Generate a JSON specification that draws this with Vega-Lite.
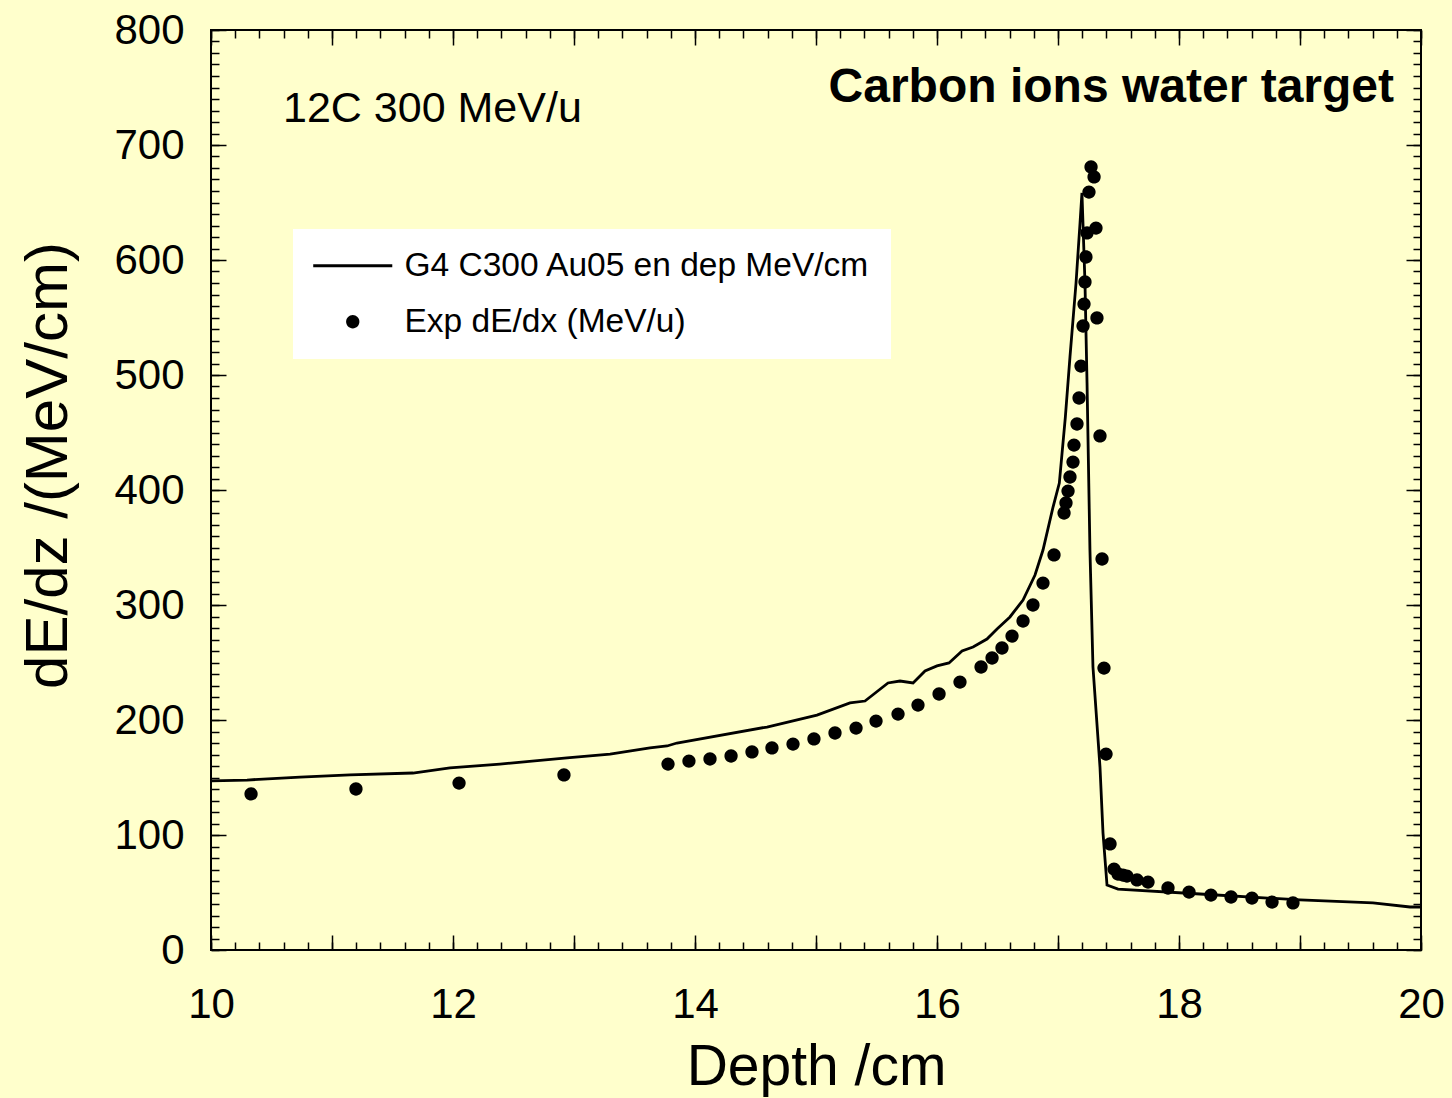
{
  "$schema": "https://vega.github.io/schema/vega-lite/v6.json",
  "width": 1210,
  "height": 920,
  "autosize": {"type": "none"},
  "padding": {"left": 211, "top": 30, "right": 31, "bottom": 148},
  "background": "#FFFFCC",
  "config": {
    "font": "Liberation Sans",
    "view": {"stroke": "black", "strokeWidth": 2},
    "axis": {
      "grid": false,
      "domain": false,
      "tickColor": "black",
      "tickWidth": 1.5,
      "labelFont": "Liberation Sans",
      "titleFont": "Liberation Sans",
      "labelColor": "black",
      "titleColor": "black",
      "titleFontWeight": "normal",
      "labelFontSize": 42,
      "labelFlush": false,
      "labelOverlap": false
    }
  },
  "datasets": {
    "sim": [
      {"depth": 10.0, "dEdz": 147.0},
      {"depth": 10.298, "dEdz": 147.8},
      {"depth": 10.736, "dEdz": 150.4},
      {"depth": 11.149, "dEdz": 152.2},
      {"depth": 11.669, "dEdz": 153.9},
      {"depth": 11.975, "dEdz": 158.3},
      {"depth": 12.388, "dEdz": 161.7},
      {"depth": 12.942, "dEdz": 167.0},
      {"depth": 13.298, "dEdz": 170.4},
      {"depth": 13.628, "dEdz": 175.7},
      {"depth": 13.769, "dEdz": 177.4},
      {"depth": 13.851, "dEdz": 180.0},
      {"depth": 14.595, "dEdz": 193.9},
      {"depth": 15.008, "dEdz": 204.3},
      {"depth": 15.281, "dEdz": 214.8},
      {"depth": 15.405, "dEdz": 216.5},
      {"depth": 15.595, "dEdz": 232.2},
      {"depth": 15.694, "dEdz": 233.9},
      {"depth": 15.802, "dEdz": 232.2},
      {"depth": 15.901, "dEdz": 242.6},
      {"depth": 16.0, "dEdz": 247.0},
      {"depth": 16.099, "dEdz": 249.6},
      {"depth": 16.207, "dEdz": 260.0},
      {"depth": 16.298, "dEdz": 263.5},
      {"depth": 16.413, "dEdz": 270.4},
      {"depth": 16.496, "dEdz": 279.1},
      {"depth": 16.603, "dEdz": 289.6},
      {"depth": 16.711, "dEdz": 304.3},
      {"depth": 16.81, "dEdz": 326.1},
      {"depth": 16.876, "dEdz": 347.8},
      {"depth": 16.959, "dEdz": 385.2},
      {"depth": 17.011, "dEdz": 406.0},
      {"depth": 17.06, "dEdz": 462.6},
      {"depth": 17.099, "dEdz": 515.7},
      {"depth": 17.149, "dEdz": 580.0},
      {"depth": 17.182, "dEdz": 632.2},
      {"depth": 17.198, "dEdz": 658.3},
      {"depth": 17.223, "dEdz": 580.0},
      {"depth": 17.24, "dEdz": 493.0},
      {"depth": 17.264, "dEdz": 347.8},
      {"depth": 17.289, "dEdz": 246.1},
      {"depth": 17.347, "dEdz": 159.1},
      {"depth": 17.372, "dEdz": 101.7},
      {"depth": 17.405, "dEdz": 56.5},
      {"depth": 17.496, "dEdz": 53.0},
      {"depth": 18.174, "dEdz": 48.7},
      {"depth": 19.0, "dEdz": 43.5},
      {"depth": 19.603, "dEdz": 40.9},
      {"depth": 19.909, "dEdz": 37.4},
      {"depth": 20.0, "dEdz": 37.4}
    ],
    "exp": [
      {"depth": 10.331, "dEdx": 135.7, "series": "Exp dE/dx (MeV/u)"},
      {"depth": 11.198, "dEdx": 140.0, "series": "Exp dE/dx (MeV/u)"},
      {"depth": 12.05, "dEdx": 145.2, "series": "Exp dE/dx (MeV/u)"},
      {"depth": 12.917, "dEdx": 152.2, "series": "Exp dE/dx (MeV/u)"},
      {"depth": 13.777, "dEdx": 161.7, "series": "Exp dE/dx (MeV/u)"},
      {"depth": 13.95, "dEdx": 164.3, "series": "Exp dE/dx (MeV/u)"},
      {"depth": 14.124, "dEdx": 166.1, "series": "Exp dE/dx (MeV/u)"},
      {"depth": 14.298, "dEdx": 168.7, "series": "Exp dE/dx (MeV/u)"},
      {"depth": 14.471, "dEdx": 172.2, "series": "Exp dE/dx (MeV/u)"},
      {"depth": 14.636, "dEdx": 175.7, "series": "Exp dE/dx (MeV/u)"},
      {"depth": 14.81, "dEdx": 179.1, "series": "Exp dE/dx (MeV/u)"},
      {"depth": 14.983, "dEdx": 183.5, "series": "Exp dE/dx (MeV/u)"},
      {"depth": 15.157, "dEdx": 188.7, "series": "Exp dE/dx (MeV/u)"},
      {"depth": 15.331, "dEdx": 193.0, "series": "Exp dE/dx (MeV/u)"},
      {"depth": 15.496, "dEdx": 199.1, "series": "Exp dE/dx (MeV/u)"},
      {"depth": 15.678, "dEdx": 205.2, "series": "Exp dE/dx (MeV/u)"},
      {"depth": 15.843, "dEdx": 213.0, "series": "Exp dE/dx (MeV/u)"},
      {"depth": 16.017, "dEdx": 222.6, "series": "Exp dE/dx (MeV/u)"},
      {"depth": 16.19, "dEdx": 233.0, "series": "Exp dE/dx (MeV/u)"},
      {"depth": 16.364, "dEdx": 246.1, "series": "Exp dE/dx (MeV/u)"},
      {"depth": 16.455, "dEdx": 253.9, "series": "Exp dE/dx (MeV/u)"},
      {"depth": 16.537, "dEdx": 262.6, "series": "Exp dE/dx (MeV/u)"},
      {"depth": 16.62, "dEdx": 273.0, "series": "Exp dE/dx (MeV/u)"},
      {"depth": 16.711, "dEdx": 286.1, "series": "Exp dE/dx (MeV/u)"},
      {"depth": 16.793, "dEdx": 300.0, "series": "Exp dE/dx (MeV/u)"},
      {"depth": 16.876, "dEdx": 319.1, "series": "Exp dE/dx (MeV/u)"},
      {"depth": 16.967, "dEdx": 343.5, "series": "Exp dE/dx (MeV/u)"},
      {"depth": 17.05, "dEdx": 380.0, "series": "Exp dE/dx (MeV/u)"},
      {"depth": 17.066, "dEdx": 388.7, "series": "Exp dE/dx (MeV/u)"},
      {"depth": 17.083, "dEdx": 399.1, "series": "Exp dE/dx (MeV/u)"},
      {"depth": 17.099, "dEdx": 411.3, "series": "Exp dE/dx (MeV/u)"},
      {"depth": 17.124, "dEdx": 424.3, "series": "Exp dE/dx (MeV/u)"},
      {"depth": 17.132, "dEdx": 439.1, "series": "Exp dE/dx (MeV/u)"},
      {"depth": 17.157, "dEdx": 457.4, "series": "Exp dE/dx (MeV/u)"},
      {"depth": 17.174, "dEdx": 480.0, "series": "Exp dE/dx (MeV/u)"},
      {"depth": 17.19, "dEdx": 507.8, "series": "Exp dE/dx (MeV/u)"},
      {"depth": 17.207, "dEdx": 542.6, "series": "Exp dE/dx (MeV/u)"},
      {"depth": 17.215, "dEdx": 561.7, "series": "Exp dE/dx (MeV/u)"},
      {"depth": 17.223, "dEdx": 580.9, "series": "Exp dE/dx (MeV/u)"},
      {"depth": 17.231, "dEdx": 602.6, "series": "Exp dE/dx (MeV/u)"},
      {"depth": 17.24, "dEdx": 623.5, "series": "Exp dE/dx (MeV/u)"},
      {"depth": 17.256, "dEdx": 659.1, "series": "Exp dE/dx (MeV/u)"},
      {"depth": 17.273, "dEdx": 680.9, "series": "Exp dE/dx (MeV/u)"},
      {"depth": 17.298, "dEdx": 672.2, "series": "Exp dE/dx (MeV/u)"},
      {"depth": 17.314, "dEdx": 627.8, "series": "Exp dE/dx (MeV/u)"},
      {"depth": 17.322, "dEdx": 549.6, "series": "Exp dE/dx (MeV/u)"},
      {"depth": 17.347, "dEdx": 447.0, "series": "Exp dE/dx (MeV/u)"},
      {"depth": 17.364, "dEdx": 340.0, "series": "Exp dE/dx (MeV/u)"},
      {"depth": 17.38, "dEdx": 245.2, "series": "Exp dE/dx (MeV/u)"},
      {"depth": 17.397, "dEdx": 170.4, "series": "Exp dE/dx (MeV/u)"},
      {"depth": 17.43, "dEdx": 92.2, "series": "Exp dE/dx (MeV/u)"},
      {"depth": 17.463, "dEdx": 70.4, "series": "Exp dE/dx (MeV/u)"},
      {"depth": 17.496, "dEdx": 66.1, "series": "Exp dE/dx (MeV/u)"},
      {"depth": 17.537, "dEdx": 65.2, "series": "Exp dE/dx (MeV/u)"},
      {"depth": 17.57, "dEdx": 64.3, "series": "Exp dE/dx (MeV/u)"},
      {"depth": 17.653, "dEdx": 60.9, "series": "Exp dE/dx (MeV/u)"},
      {"depth": 17.744, "dEdx": 59.1, "series": "Exp dE/dx (MeV/u)"},
      {"depth": 17.909, "dEdx": 53.9, "series": "Exp dE/dx (MeV/u)"},
      {"depth": 18.083, "dEdx": 50.4, "series": "Exp dE/dx (MeV/u)"},
      {"depth": 18.264, "dEdx": 47.8, "series": "Exp dE/dx (MeV/u)"},
      {"depth": 18.43, "dEdx": 46.1, "series": "Exp dE/dx (MeV/u)"},
      {"depth": 18.603, "dEdx": 45.2, "series": "Exp dE/dx (MeV/u)"},
      {"depth": 18.769, "dEdx": 41.7, "series": "Exp dE/dx (MeV/u)"},
      {"depth": 18.942, "dEdx": 40.9, "series": "Exp dE/dx (MeV/u)"}
    ],
    "note1": [{"depth": 10.595, "v": 720, "text": "12C 300 MeV/u"}],
    "note2": [{"depth": 19.777, "v": 737.4, "text": "Carbon ions water target"}]
  },
  "layer": [
    {
      "data": {"name": "sim"},
      "mark": {"type": "line", "color": "black", "strokeWidth": 2.8},
      "encoding": {
        "x": {
          "field": "depth", "type": "quantitative",
          "scale": {"domain": [10, 20], "nice": false, "zero": false},
          "axis": {
            "orient": "bottom",
            "values": [10, 11, 12, 13, 14, 15, 16, 17, 18, 19, 20],
            "tickSize": -15,
            "labelExpr": "datum.value % 2 === 0 ? datum.label : ''",
            "labelPadding": 49,
            "title": "Depth /cm",
            "titleFontSize": 57,
            "titleY": 89
          }
        },
        "y": {
          "field": "dEdz", "type": "quantitative",
          "scale": {"domain": [0, 800], "nice": false, "zero": false},
          "axis": {
            "orient": "left",
            "values": [0, 100, 200, 300, 400, 500, 600, 700, 800],
            "tickSize": -15,
            "labelPadding": 42,
            "title": "dE/dz /(MeV/cm)",
            "titleFontSize": 60,
            "titleX": -132,
            "titleY": 435
          }
        }
      }
    },
    {
      "data": {"name": "exp"},
      "mark": {"type": "point", "filled": true, "color": "black", "opacity": 1, "size": 1000},
      "encoding": {
        "x": {
          "field": "depth", "type": "quantitative",
          "scale": {"domain": [10, 20], "nice": false, "zero": false},
          "axis": {
            "orient": "bottom",
            "values": [10, 10.2, 10.4, 10.6, 10.8, 11, 11.2, 11.4, 11.6, 11.8, 12, 12.2, 12.4, 12.6, 12.8, 13, 13.2, 13.4, 13.6, 13.8, 14, 14.2, 14.4, 14.6, 14.8, 15, 15.2, 15.4, 15.6, 15.8, 16, 16.2, 16.4, 16.6, 16.8, 17, 17.2, 17.4, 17.6, 17.8, 18, 18.2, 18.4, 18.6, 18.8, 19, 19.2, 19.4, 19.6, 19.8, 20],
            "tickSize": -8,
            "labels": false,
            "title": null
          }
        },
        "y": {
          "field": "dEdx", "type": "quantitative",
          "scale": {"domain": [0, 800], "nice": false, "zero": false},
          "axis": {
            "orient": "left",
            "values": [0, 10, 20, 30, 40, 50, 60, 70, 80, 90, 100, 110, 120, 130, 140, 150, 160, 170, 180, 190, 200, 210, 220, 230, 240, 250, 260, 270, 280, 290, 300, 310, 320, 330, 340, 350, 360, 370, 380, 390, 400, 410, 420, 430, 440, 450, 460, 470, 480, 490, 500, 510, 520, 530, 540, 550, 560, 570, 580, 590, 600, 610, 620, 630, 640, 650, 660, 670, 680, 690, 700, 710, 720, 730, 740, 750, 760, 770, 780, 790, 800],
            "tickSize": -8,
            "labels": false,
            "title": null
          }
        },
        "shape": {
          "field": "series", "type": "nominal",
          "scale": {
            "domain": ["G4 C300 Au05 en dep MeV/cm", "Exp dE/dx (MeV/u)"],
            "range": ["M-2.5,-0.09H2.5V0.09H-2.5Z", "M-0.42,0A0.42,0.42 0 1,0 0.42,0A0.42,0.42 0 1,0 -0.42,0Z"]
          },
          "legend": {
            "title": null,
            "orient": "none",
            "direction": "vertical",
            "legendX": 82,
            "legendY": 199,
            "fillColor": "white",
            "padding": 20,
            "labelFont": "Liberation Sans",
            "labelFontSize": 33.5,
            "labelColor": "black",
            "labelLimit": 0,
            "rowPadding": 21,
            "symbolOffset": 23,
            "labelOffset": 35,
            "symbolSize": 1000,
            "symbolStrokeWidth": 0,
            "symbolFillColor": "black",
            "symbolOpacity": 1
          }
        }
      }
    },
    {
      "data": {"name": "note1"},
      "mark": {"type": "text", "align": "left", "baseline": "alphabetic", "fontSize": 43, "font": "Liberation Sans", "color": "black"},
      "encoding": {
        "x": {
          "field": "depth", "type": "quantitative",
          "scale": {"domain": [10, 20], "nice": false, "zero": false},
          "axis": {
            "orient": "top",
            "values": [10, 11, 12, 13, 14, 15, 16, 17, 18, 19, 20],
            "tickSize": -15,
            "labels": false,
            "title": null
          }
        },
        "y": {
          "field": "v", "type": "quantitative",
          "scale": {"domain": [0, 800], "nice": false, "zero": false},
          "axis": {
            "orient": "right",
            "values": [0, 100, 200, 300, 400, 500, 600, 700, 800],
            "tickSize": -15,
            "labels": false,
            "title": null
          }
        },
        "text": {"field": "text", "type": "nominal"}
      }
    },
    {
      "data": {"name": "note2"},
      "mark": {"type": "text", "align": "right", "baseline": "alphabetic", "fontSize": 48, "fontWeight": "bold", "font": "Liberation Sans", "color": "black"},
      "encoding": {
        "x": {
          "field": "depth", "type": "quantitative",
          "scale": {"domain": [10, 20], "nice": false, "zero": false},
          "axis": {
            "orient": "top",
            "values": [10, 10.2, 10.4, 10.6, 10.8, 11, 11.2, 11.4, 11.6, 11.8, 12, 12.2, 12.4, 12.6, 12.8, 13, 13.2, 13.4, 13.6, 13.8, 14, 14.2, 14.4, 14.6, 14.8, 15, 15.2, 15.4, 15.6, 15.8, 16, 16.2, 16.4, 16.6, 16.8, 17, 17.2, 17.4, 17.6, 17.8, 18, 18.2, 18.4, 18.6, 18.8, 19, 19.2, 19.4, 19.6, 19.8, 20],
            "tickSize": -8,
            "labels": false,
            "title": null
          }
        },
        "y": {
          "field": "v", "type": "quantitative",
          "scale": {"domain": [0, 800], "nice": false, "zero": false},
          "axis": {
            "orient": "right",
            "values": [0, 10, 20, 30, 40, 50, 60, 70, 80, 90, 100, 110, 120, 130, 140, 150, 160, 170, 180, 190, 200, 210, 220, 230, 240, 250, 260, 270, 280, 290, 300, 310, 320, 330, 340, 350, 360, 370, 380, 390, 400, 410, 420, 430, 440, 450, 460, 470, 480, 490, 500, 510, 520, 530, 540, 550, 560, 570, 580, 590, 600, 610, 620, 630, 640, 650, 660, 670, 680, 690, 700, 710, 720, 730, 740, 750, 760, 770, 780, 790, 800],
            "tickSize": -8,
            "labels": false,
            "title": null
          }
        },
        "text": {"field": "text", "type": "nominal"}
      }
    }
  ],
  "resolve": {"axis": {"x": "independent", "y": "independent"}}
}
